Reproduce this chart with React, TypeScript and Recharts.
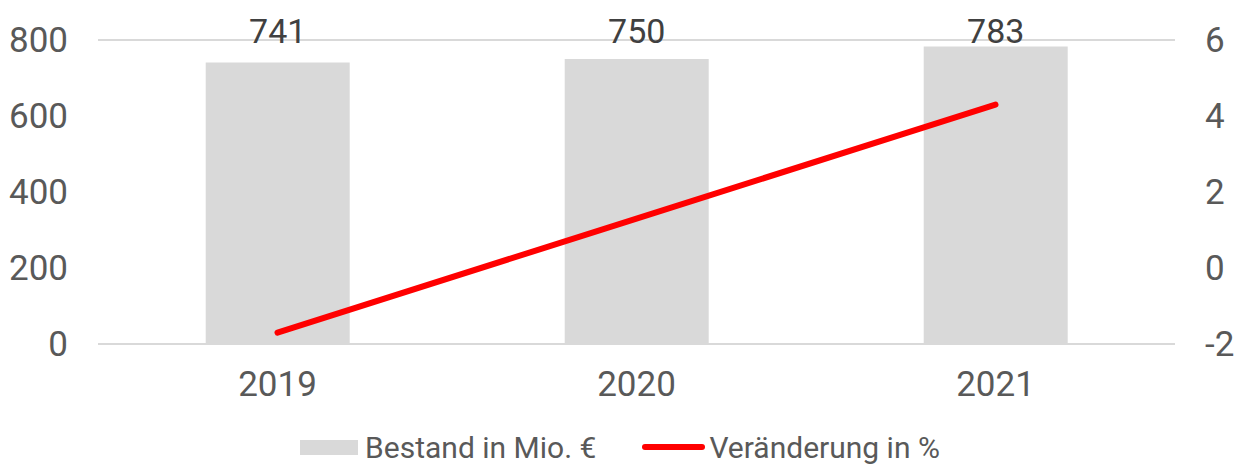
import React from "react";
import { ComposedChart, Bar, Line, XAxis, YAxis, CartesianGrid, Legend, LabelList } from "recharts";

const years = ["2019", "2020", "2021"];
const bestand = [741, 750, 783];
const veraenderung = [-1.7, 1.3, 4.3];
const leftTicks = [0, 200, 400, 600, 800];
const rightTicks = [-2, 0, 2, 4, 6];
const seriesNames = ["Bestand in Mio. €", "Veränderung in %"];

const data = years.map((y, i) => ({ year: y, bestand: bestand[i], veraenderung: veraenderung[i] }));

const FONT = "Roboto, 'Noto Sans', sans-serif";
const GRAY_TEXT = "#595959";
const BAR_COLOR = "#d9d9d9";
const LINE_COLOR = "#ff0000";

const BarLabel = (props: any) => {
  const { x, width, value } = props;
  return (
    <text x={x + width / 2} y={42.5} textAnchor="middle" fill="#404040" fontSize={34} fontFamily={FONT}>
      {value}
    </text>
  );
};

const CustomLegend = () => (
  <div style={{ display: "flex", justifyContent: "center", alignItems: "center", height: 30, fontFamily: FONT, fontSize: 30, color: GRAY_TEXT, paddingRight: 4 }}>
    <div style={{ width: 58, height: 15, background: BAR_COLOR, marginRight: 7 }} />
    <span>{seriesNames[0]}</span>
    <div style={{ width: 63, height: 6, background: LINE_COLOR, borderRadius: 3, marginLeft: 46, marginRight: 4 }} />
    <span>{seriesNames[1]}</span>
  </div>
);

export default function App() {
  return (
    <div style={{ position: "absolute", left: 0, top: 0, width: 1244, height: 465, background: "#fff" }}>
      <ComposedChart
        width={1244}
        height={465}
        data={data}
        margin={{ top: 40, right: 0, left: 0, bottom: 31 }}
        barCategoryGap="30%"
      >
        <CartesianGrid vertical={false} stroke="#d9d9d9" strokeWidth={2} />
        <XAxis
          dataKey="year"
          axisLine={false}
          tickLine={false}
          tickSize={0}
          tickMargin={27}
          height={60}
          tick={{ fill: GRAY_TEXT, fontSize: 35, fontFamily: FONT }}
        />
        <YAxis
          yAxisId="left"
          orientation="left"
          domain={[0, 800]}
          ticks={leftTicks}
          width={98}
          axisLine={false}
          tickLine={false}
          tickSize={0}
          tickMargin={30}
          tick={{ fill: GRAY_TEXT, fontSize: 35, fontFamily: FONT }}
        />
        <YAxis
          yAxisId="right"
          orientation="right"
          domain={[-2, 6]}
          ticks={rightTicks}
          width={69}
          axisLine={false}
          tickLine={false}
          tickSize={0}
          tickMargin={30}
          tick={{ fill: GRAY_TEXT, fontSize: 35, fontFamily: FONT }}
        />
        <Legend verticalAlign="bottom" content={<CustomLegend />} wrapperStyle={{ bottom: 3 }} />
        <Bar yAxisId="left" dataKey="bestand" name={seriesNames[0]} fill={BAR_COLOR} isAnimationActive={false}>
          <LabelList dataKey="bestand" content={<BarLabel />} />
        </Bar>
        <Line
          yAxisId="right"
          dataKey="veraenderung"
          name={seriesNames[1]}
          stroke={LINE_COLOR}
          strokeWidth={6}
          strokeLinecap="round"
          dot={false}
          activeDot={false}
          isAnimationActive={false}
        />
      </ComposedChart>
    </div>
  );
}
